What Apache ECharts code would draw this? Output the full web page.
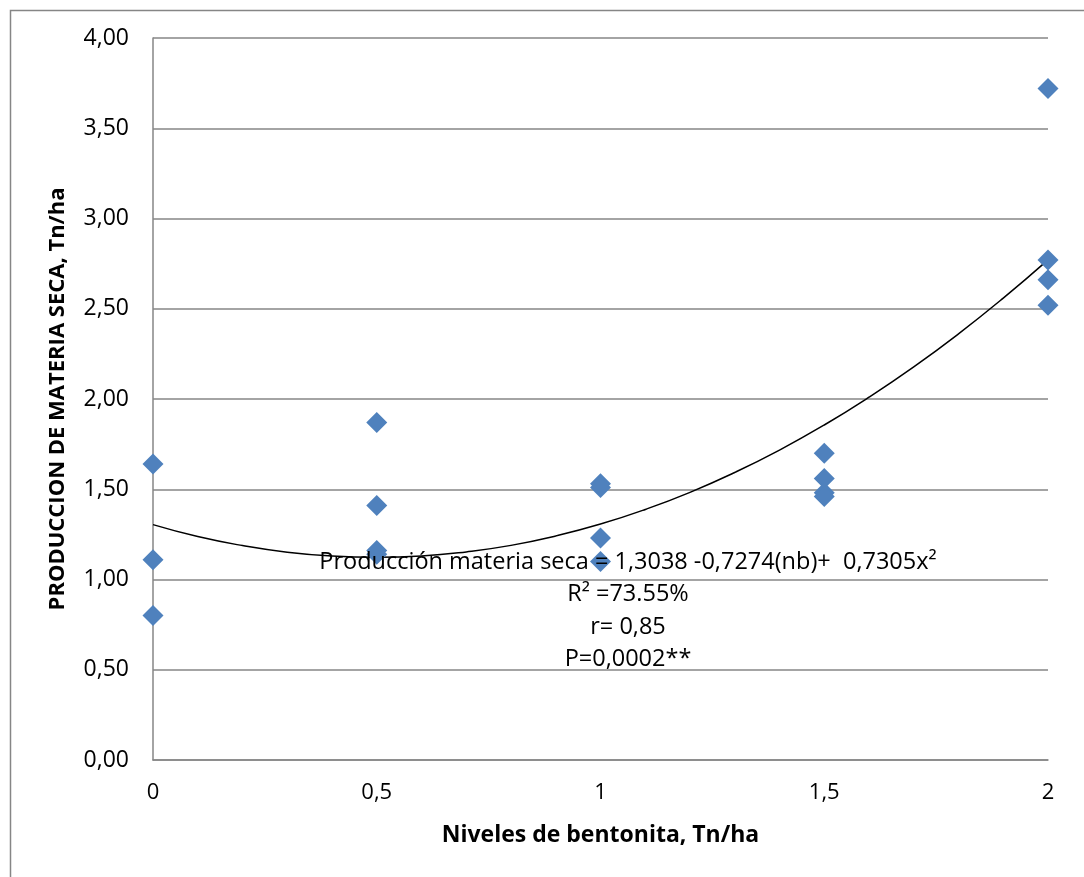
<!DOCTYPE html>
<html>
<head>
<meta charset="utf-8">
<script src="https://cdn.jsdelivr.net/npm/echarts@6/dist/echarts.min.js"></script>
<style>
html,body{margin:0;padding:0;background:#fff;}
#chart{width:1084px;height:877px;}
</style>
</head>
<body>
<div id="chart"></div>
<script>
// Observed points: [nivel de bentonita, producción materia seca]
const levels = [0, 0, 0, 0.5, 0.5, 0.5, 0.5, 1, 1, 1, 1, 1.5, 1.5, 1.5, 1.5, 2, 2, 2, 2];
const production = [1.64, 1.11, 0.80, 1.87, 1.41, 1.16, 1.14, 1.53, 1.51, 1.23, 1.10, 1.70, 1.56, 1.48, 1.46, 3.72, 2.77, 2.66, 2.52];

// Trend curve values
const trendX = [0, 0.1, 0.2, 0.3, 0.4, 0.5, 0.6, 0.7, 0.8, 0.9, 1.0, 1.1, 1.2, 1.3, 1.4, 1.5, 1.6, 1.7, 1.8, 1.9, 2.0];
const trendY = [1.304, 1.238, 1.188, 1.151, 1.130, 1.123, 1.130, 1.153, 1.189, 1.241, 1.307, 1.388, 1.483, 1.593, 1.717, 1.856, 2.010, 2.178, 2.361, 2.559, 2.771];

const yTicks = [0, 0.5, 1, 1.5, 2, 2.5, 3, 3.5, 4];
const xTicks = [0, 0.5, 1, 1.5, 2];

const annotationLines = [
  'Producción materia seca = 1,3038 -0,7274(nb)+  0,7305x²',
  'R² =73.55%',
  'r= 0,85',
  'P=0,0002**'
];

const scatterData = levels.map((x, i) => [x, production[i]]);
const trendData = trendX.map((x, i) => [x, trendY[i]]);

const chart = echarts.init(document.getElementById('chart'), null, {renderer: 'canvas'});
chart.setOption({
  backgroundColor: '#ffffff',
  animation: false,
  grid: {left: 153, right: 36, top: 38, bottom: 117},
  xAxis: {
    type: 'value', min: 0, max: 2, interval: 0.5,
    name: 'Niveles de bentonita, Tn/ha',
    nameLocation: 'middle', nameGap: 64,
    nameTextStyle: {fontFamily: 'Open Sans', fontWeight: 'bold', fontSize: 23, color: '#000'},
    axisLine: {show: true, lineStyle: {color: '#868686', width: 1.5}},
    axisTick: {show: false},
    splitLine: {show: false},
    axisLabel: {
      margin: 22, fontFamily: 'Open Sans', fontSize: 22, color: '#000',
      formatter: v => String(v).replace('.', ',')
    }
  },
  yAxis: {
    type: 'value', min: 0, max: 4, interval: 0.5,
    name: 'PRODUCCION DE MATERIA SECA, Tn/ha',
    nameLocation: 'middle', nameGap: 84,
    nameTextStyle: {fontFamily: 'Open Sans', fontWeight: 'bold', fontSize: 22, color: '#000'},
    axisLine: {show: true, lineStyle: {color: '#868686', width: 1.5}},
    axisTick: {show: false},
    splitLine: {show: true, lineStyle: {color: '#868686', width: 1.5}},
    axisLabel: {
      margin: 24, fontFamily: 'Open Sans', fontSize: 23, color: '#000',
      formatter: v => v.toFixed(2).replace('.', ',')
    }
  },
  series: [
    {
      type: 'line', data: trendData, smooth: true, symbol: 'none',
      lineStyle: {color: '#000', width: 1.5}, z: 2
    },
    {
      type: 'scatter', data: scatterData, symbol: 'diamond', symbolSize: 21,
      itemStyle: {color: '#4F81BD', opacity: 1}, z: 3
    }
  ],
  graphic: [
    {
      type: 'rect', left: 8, top: 8, z: -1,
      shape: {width: 1100, height: 900},
      style: {fill: 'none', stroke: '#868686', lineWidth: 1.5}
    },
    {
      type: 'text', x: 628, y: 546, z: 10,
      style: {
        text: annotationLines.join('\n'),
        align: 'center', verticalAlign: 'top',
        fontFamily: 'Open Sans', fontSize: 23.5, lineHeight: 32.5, fill: '#000'
      }
    }
  ]
});
</script>
</body>
</html>
